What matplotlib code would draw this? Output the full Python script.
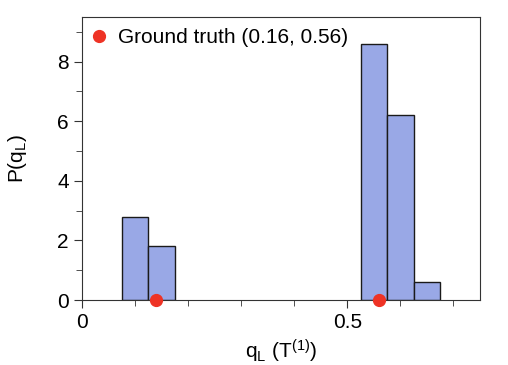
import numpy as np
import matplotlib.pyplot as plt
from matplotlib.ticker import MultipleLocator

plt.rcParams['font.family'] = ['Liberation Sans', 'DejaVu Sans']
plt.rcParams['mathtext.fontset'] = 'custom'
plt.rcParams['mathtext.rm'] = 'Liberation Sans'
plt.rcParams['mathtext.it'] = 'Liberation Sans'

# histogram data (left bin edges and densities)
bin_left = [0.075, 0.125, 0.525, 0.575, 0.625]
density = [2.8, 1.8, 8.6, 6.2, 0.6]
bin_width = 0.05

# ground truth points
truth_x = [0.14, 0.56]
truth_y = [0, 0]
truth_label = "Ground truth (0.16, 0.56)"

fig = plt.figure(figsize=(5.08, 3.65), dpi=100)
ax = fig.add_axes([82 / 508, 1 - 300 / 365, 398 / 508, 283 / 365])

ax.bar(bin_left, density, width=bin_width, align='edge',
       color='#99a8e6', edgecolor='#1a1a1a', linewidth=1.0, zorder=2)
ax.plot(truth_x, truth_y, 'o', color='#ee3325', markersize=8.5,
        clip_on=False, zorder=5, label=truth_label)

ax.set_xlim(0, 0.75)
ax.set_ylim(0, 9.5)
ax.xaxis.set_major_locator(MultipleLocator(0.5))
ax.xaxis.set_minor_locator(MultipleLocator(0.1))
ax.yaxis.set_major_locator(MultipleLocator(2))
ax.yaxis.set_minor_locator(MultipleLocator(1))
ax.set_xticks([0, 0.5], ['0', '0.5'])
ax.tick_params(which='both', direction='out', labelsize=15, color='#333333')
ax.tick_params(which='major', length=6)
ax.tick_params(which='minor', length=4)
for s in ax.spines.values():
    s.set_color('#333333')

ax.set_xlabel(r'q$_\mathregular{L}$ (T$^{\mathregular{(1)}}$)', fontsize=15, labelpad=4)
ax.set_ylabel(r'P(q$_\mathregular{L}$)', fontsize=15, labelpad=20)

ax.legend(loc='upper left', frameon=False, fontsize=15, handlelength=0.5,
          handletextpad=0.7, borderaxespad=0.2, borderpad=0.35)

fig.savefig('out.png', dpi=100)
